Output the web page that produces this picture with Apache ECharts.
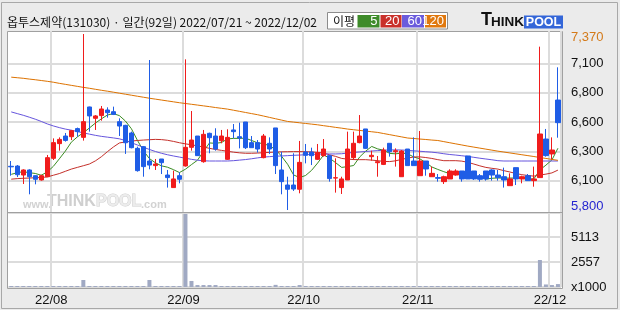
<!DOCTYPE html>
<html><head><meta charset="utf-8">
<script src="https://cdn.jsdelivr.net/npm/echarts@6/dist/echarts.min.js"></script>
<style>html,body{margin:0;padding:0;background:#ebebeb}#c{width:620px;height:310px}</style>
</head><body><div id="c"></div>
<script>
const dates = ['2022/07/21','2022/07/22','2022/07/25','2022/07/26','2022/07/27','2022/07/28','2022/07/29',
'2022/08/01','2022/08/02','2022/08/03','2022/08/04','2022/08/05','2022/08/08','2022/08/09','2022/08/10','2022/08/11','2022/08/12',
'2022/08/16','2022/08/17','2022/08/18','2022/08/19','2022/08/22','2022/08/23','2022/08/24','2022/08/25','2022/08/26','2022/08/29','2022/08/30','2022/08/31',
'2022/09/01','2022/09/02','2022/09/05','2022/09/06','2022/09/07','2022/09/08','2022/09/13','2022/09/14','2022/09/15','2022/09/16',
'2022/09/19','2022/09/20','2022/09/21','2022/09/22','2022/09/23','2022/09/26','2022/09/27','2022/09/28','2022/09/29','2022/09/30',
'2022/10/04','2022/10/05','2022/10/06','2022/10/07','2022/10/11','2022/10/12','2022/10/13','2022/10/14','2022/10/17','2022/10/18',
'2022/10/19','2022/10/20','2022/10/21','2022/10/24','2022/10/25','2022/10/26','2022/10/27','2022/10/28','2022/10/31',
'2022/11/01','2022/11/02','2022/11/03','2022/11/04','2022/11/07','2022/11/08','2022/11/09','2022/11/10','2022/11/11',
'2022/11/14','2022/11/15','2022/11/16','2022/11/17','2022/11/18','2022/11/21','2022/11/22','2022/11/23','2022/11/24','2022/11/25',
'2022/11/28','2022/11/29','2022/11/30','2022/12/01','2022/12/02'];

const opens = [6190,6192,6112,6157,6106,6068,6097,6261,6392,6460,
6454,6526,6448,6719,6618,6642,6692,6677,6588,6555,
6487,6350,6365,6237,6196,6255,6112,6000,6106,6193,
6359,6460,6231,6484,6460,6418,6252,6514,6454,6585,
6401,6401,6267,6395,6532,6157,6023,6023,5985,6317,
6317,6252,6285,6285,6085,6000,6068,6267,6401,6523,
6276,6222,6207,6395,6320,6097,6344,6237,6106,6237,
6097,6089,6053,6077,6112,6148,6282,6148,6106,6148,
6157,6112,6097,6017,6178,6077,6106,6062,6089,6433,
6300,6781];
const closes = [6185,6115,6157,6097,6074,6106,6267,6401,6430,6421,
6508,6499,6588,6639,6639,6701,6668,6653,6549,6400,
6356,6151,6187,6201,6210,6222,6089,6077,6074,6359,
6424,6285,6475,6445,6344,6460,6448,6499,6442,6356,
6356,6344,6460,6344,6196,6053,5985,5987,6225,6288,
6285,6311,6344,6080,6088,6077,6344,6395,6460,6350,
6288,6231,6335,6320,6329,6326,6196,6196,6237,6166,
6127,6083,6097,6148,6148,6077,6077,6077,6074,6077,
6112,6089,6068,6077,6077,6097,6062,6077,6478,6285,
6335,6579];
const lows = [6106,6094,6032,5940,6029,6062,6094,6246,6329,6410,
6424,6454,6419,6499,6514,6597,6624,6647,6460,6300,
6350,6142,6097,6163,6157,6121,6000,6000,6038,6187,
6329,6282,6222,6306,6329,6395,6246,6439,6350,6344,
6356,6312,6261,6300,6121,5940,5800,5970,5949,6216,
6201,6246,6276,6053,5955,5943,6068,6246,6395,6344,
6240,6097,6201,6276,6187,6097,6196,6196,6106,6106,
6097,6053,6032,6077,6106,6053,6077,6068,6053,6062,
6062,6062,6000,6017,6023,6038,6062,6008,6089,6276,
6252,6445];
const highs = [6237,6201,6163,6163,6109,6115,6291,6439,6448,6487,
6514,6535,7370,6722,6647,6728,6716,6722,6618,6560,
6499,6365,6371,7138,6255,6255,6157,6151,6136,7144,
6683,6460,6514,6490,6529,6514,6520,6567,6579,6585,
6460,6424,6478,6448,6532,6320,6097,6306,6416,6389,
6356,6389,6433,6291,6261,6097,6499,6499,6647,6523,
6329,6282,6356,6395,6350,6335,6344,6448,6505,6237,
6187,6121,6106,6163,6163,6148,6282,6148,6121,6148,
6163,6157,6178,6127,6178,6106,6121,6187,7257,6523,
6448,7073];
const volumes = [100,100,100,100,100,100,100,100,100,100,
100,100,720,100,100,100,100,100,100,100,
100,100,100,720,100,100,100,100,100,7500,
620,200,200,200,200,100,100,100,100,100,
100,100,100,100,220,100,100,100,200,100,
100,100,100,100,100,100,100,100,100,100,
100,100,100,100,100,100,100,100,100,100,
100,100,100,100,100,100,100,100,100,100,
100,100,100,100,100,100,100,100,2770,260,
200,300];
const ma5 = [6118,6133,6142,6133,6126,6110,6140,6189,6256,6325,
6405,6452,6489,6531,6575,6613,6647,6660,6642,6594,
6525,6422,6329,6259,6221,6194,6182,6160,6134,6164,
6205,6244,6323,6398,6395,6402,6434,6439,6439,6441,
6420,6399,6392,6372,6340,6279,6208,6113,6089,6108,
6154,6219,6291,6262,6222,6180,6187,6197,6273,6325,
6367,6345,6333,6305,6301,6308,6301,6273,6257,6224,
6184,6162,6142,6124,6121,6111,6109,6105,6091,6076,
6083,6086,6084,6085,6085,6082,6076,6078,6158,6200,
6247,6351];
const ma20 = [6075,6080,6083,6085,6088,6090,6095,6110,6125,6145,
6165,6180,6195,6210,6238,6275,6320,6362,6398,6407,
6415,6420,6424,6427,6430,6428,6422,6412,6400,6390,
6382,6372,6362,6350,6340,6332,6324,6316,6310,6306,
6306,6308,6311,6314,6317,6319,6320,6321,6321,6320,
6318,6314,6309,6292,6278,6260,6254,6250,6249,6249,
6245,6240,6233,6232,6239,6252,6263,6273,6274,6268,
6260,6249,6240,6240,6240,6236,6225,6210,6194,6180,
6172,6165,6151,6139,6126,6115,6108,6102,6112,6120,
6131,6156];
const ma60 = [6675,6660,6645,6628,6610,6590,6568,6550,6535,6522,
6512,6500,6488,6477,6466,6457,6450,6443,6435,6420,
6400,6380,6360,6340,6322,6306,6293,6282,6272,6262,
6252,6244,6239,6237,6237,6237,6237,6240,6245,6250,
6257,6265,6272,6276,6280,6282,6285,6288,6290,6293,
6296,6298,6300,6300,6300,6302,6308,6314,6318,6322,
6326,6330,6333,6336,6336,6335,6332,6328,6324,6320,
6316,6310,6302,6295,6290,6284,6278,6270,6262,6255,
6248,6240,6237,6237,6237,6237,6237,6237,6237,6237,
6237,6237];
const ma120 = [6985,6980,6975,6968,6962,6955,6948,6940,6930,6921,
6912,6903,6894,6886,6877,6868,6860,6851,6842,6833,
6824,6815,6806,6797,6789,6781,6773,6765,6757,6750,
6743,6736,6729,6722,6714,6707,6700,6690,6680,6670,
6660,6650,6638,6626,6614,6602,6590,6584,6578,6572,
6566,6560,6552,6545,6537,6530,6522,6516,6510,6504,
6498,6492,6482,6472,6462,6452,6442,6438,6433,6429,
6424,6420,6410,6400,6390,6380,6370,6361,6352,6343,
6334,6325,6317,6309,6301,6293,6285,6277,6268,6260,
6251,6243];
const priceTickLabels = ['5,800','6,100','6,300','6,600','6,800','7,100','7,370'];
const volTickLabels = ['x1000','2557','5113',''];
const maNames = ['5','20','60','120'];
const maColors = ['#3a8c22','#c4302a','#6655dd','#dd7200'];
const legendColors = ['#3e8b2a','#c9312b','#6a5bdc','#e0780e'];
const titleText = '옵투스제약(131030) · 일간(92일) 2022/07/21 ~ 2022/12/02';

function isMonthStart(i){ return i > 0 && dates[i].slice(5,7) !== dates[i-1].slice(5,7); }

const chart = echarts.init(document.getElementById('c'));
const GL = 8.24, GW = 552.7;
const FONT = 'Liberation Sans';

const maData = [ma5, ma20, ma60, ma120];
const series = maData.map((arr, k) => ({
  name: 'MA' + maNames[k], type: 'line', xAxisIndex: 0, yAxisIndex: 0,
  data: arr, symbol: 'none', showSymbol: false, z: 2,
  lineStyle: {color: maColors[k], width: 1}, silent: true
}));
series.push({
  type: 'candlestick', xAxisIndex: 0, yAxisIndex: 0, barWidth: 5, z: 3,
  data: dates.map((d, i) => [opens[i], closes[i], lows[i], highs[i]]),
  itemStyle: {color:'#f01c1c', color0:'#1f5de6', borderColor:'#f01c1c', borderColor0:'#1f5de6', borderWidth:1}
});
series.push({
  type: 'bar', xAxisIndex: 1, yAxisIndex: 1, barWidth: 4, data: volumes,
  itemStyle: {color:'#a0a9c3'}
});
series.push({ type: 'line', xAxisIndex: 2, yAxisIndex: 2, data: [], silent: true });

const legendBoxes = [[357.5,22],[380.5,21],[402,22],[425,21]];
const graphics = [
  {type:'rect', z:-20, shape:{x:1.5,y:2.5,width:616,height:306}, style:{fill:'#ebebeb', stroke:'#a8a8a8', lineWidth:1}},
  {type:'rect', z:-10, shape:{x:7.5,y:31.5,width:555,height:257}, style:{fill:'#ffffff', stroke:'#a0a0a0', lineWidth:1}},
  {type:'line', z:50, shape:{x1:7.5,y1:212.5,x2:562.5,y2:212.5}, style:{stroke:'#a0a0a0', lineWidth:1}},
  {type:'text', z:-5, style:{text:'www.', x:23, y:204.5, fill:'#d2d2d2', font:'bold 11px "Liberation Sans"', verticalAlign:'middle'}},
  {type:'text', z:-5, style:{text:'THINK', x:47, y:202, fill:'#cfcfcf', font:'bold 16px "Liberation Sans"', verticalAlign:'middle'}},
  {type:'text', z:-5, style:{text:'POOL', x:96, y:202, fill:'#ececec', stroke:'#cfcfcf', lineWidth:1, font:'bold 16px "Liberation Sans"', verticalAlign:'middle'}},
  {type:'text', z:-5, style:{text:'.com', x:141, y:204.5, fill:'#d2d2d2', font:'bold 11px "Liberation Sans"', verticalAlign:'middle'}},
  {type:'text', z:10, style:{text:titleText, x:7, y:22, fill:'#111', font:'12px "Noto Sans CJK KR"', verticalAlign:'middle'}},
  {type:'rect', z:10, shape:{x:327.5,y:12.5,width:120,height:16.5}, style:{fill:'#fff', stroke:'#8c8c8c', lineWidth:1}},
  {type:'text', z:11, style:{text:'이평', x:333, y:21, fill:'#111', font:'12px "Noto Sans CJK KR"', verticalAlign:'middle'}},
  {type:'text', z:11, style:{text:'T', x:481, y:29, fill:'#111', font:'bold 18px "Liberation Sans"', verticalAlign:'bottom'}},
  {type:'text', z:11, style:{text:'HINK', x:491, y:29, fill:'#111', font:'bold 13.5px "Liberation Sans"', verticalAlign:'bottom'}},
  {type:'rect', z:10, shape:{x:524,y:15.5,width:39,height:13}, style:{fill:'#3466d8'}},
  {type:'text', z:11, style:{text:'POOL', x:543.5, y:22.5, fill:'#fff', font:'bold 12.5px "Liberation Sans"', align:'center', verticalAlign:'middle'}}
];
legendBoxes.forEach((b, k) => {
  graphics.push({type:'rect', z:11, shape:{x:b[0], y:15, width:b[1], height:12.5}, style:{fill:legendColors[k]}});
  graphics.push({type:'text', z:12, style:{text:maNames[k], x:b[0]+b[1]-2, y:21.5, fill:'#fff', font:'13px "Liberation Sans"', align:'right', verticalAlign:'middle'}});
});

const catAxisBase = {type:'category', data:dates, boundaryGap:true, axisLine:{show:false}, axisTick:{show:false}};

chart.setOption({
  animation: false,
  backgroundColor: '#ebebeb',
  textStyle: {fontFamily: FONT},
  grid: [
    {left: GL, top: 31, width: GW, height: 181.3},
    {left: GL, top: 212.3, width: GW, height: 74.7},
    {left: GL, top: 34, width: GW, height: 176}
  ],
  xAxis: [
    Object.assign({gridIndex:0, axisLabel:{show:false}, splitLine:{show:true, interval:(i)=>isMonthStart(i), lineStyle:{color:'#dcdcdc', width:2}}}, catAxisBase),
    Object.assign({gridIndex:1, splitLine:{show:true, interval:(i)=>isMonthStart(i), lineStyle:{color:'#dcdcdc', width:2}},
      axisLabel:{show:true, interval:(i)=>isMonthStart(i), margin:7, color:'#111', fontSize:13, fontFamily:FONT,
        formatter:(v)=>'{m|' + v.slice(2,4) + '/' + v.slice(5,7) + '}',
        rich:{m:{padding:[0,4,0,0], color:'#111', fontSize:13, fontFamily:FONT}}}}, catAxisBase),
    Object.assign({gridIndex:2, show:false}, catAxisBase)
  ],
  yAxis: [
    {gridIndex:0, type:'value', min:5779.5, max:7396.8, show:false, splitLine:{show:false}},
    {gridIndex:1, type:'value', min:0, max:7670, interval:7670/3, position:'right',
      axisLine:{show:false}, axisTick:{show:false},
      splitLine:{show:true, lineStyle:{color:'#dcdcdc', width:2}},
      axisLabel:{margin:10, color:'#111', fontSize:13, fontFamily:FONT, formatter:(v, idx)=>volTickLabels[idx] || ''}},
    {gridIndex:2, type:'category', data:priceTickLabels, boundaryGap:false, position:'right',
      axisLine:{show:false}, axisTick:{show:false},
      splitLine:{show:true, interval:(i)=> i > 0 && i < priceTickLabels.length - 1, lineStyle:{color:'#dcdcdc', width:2}},
      axisLabel:{interval:0, margin:10, fontSize:13, fontFamily:FONT, color:'#111',
        formatter:(v, idx)=> idx === priceTickLabels.length - 1 ? '{t|' + v + '}' : (idx === 0 ? '{b|' + v + '}' : '{n|' + v + '}'),
        rich:{
          t:{color:'#d47a1a', fontSize:13, fontFamily:FONT, padding:[6,0,0,0]},
          b:{color:'#2424d0', fontSize:13, fontFamily:FONT, padding:[0,0,8,0]},
          n:{color:'#111', fontSize:13, fontFamily:FONT}
        }}}
  ],
  series: series,
  graphic: graphics
});
</script></body></html>
